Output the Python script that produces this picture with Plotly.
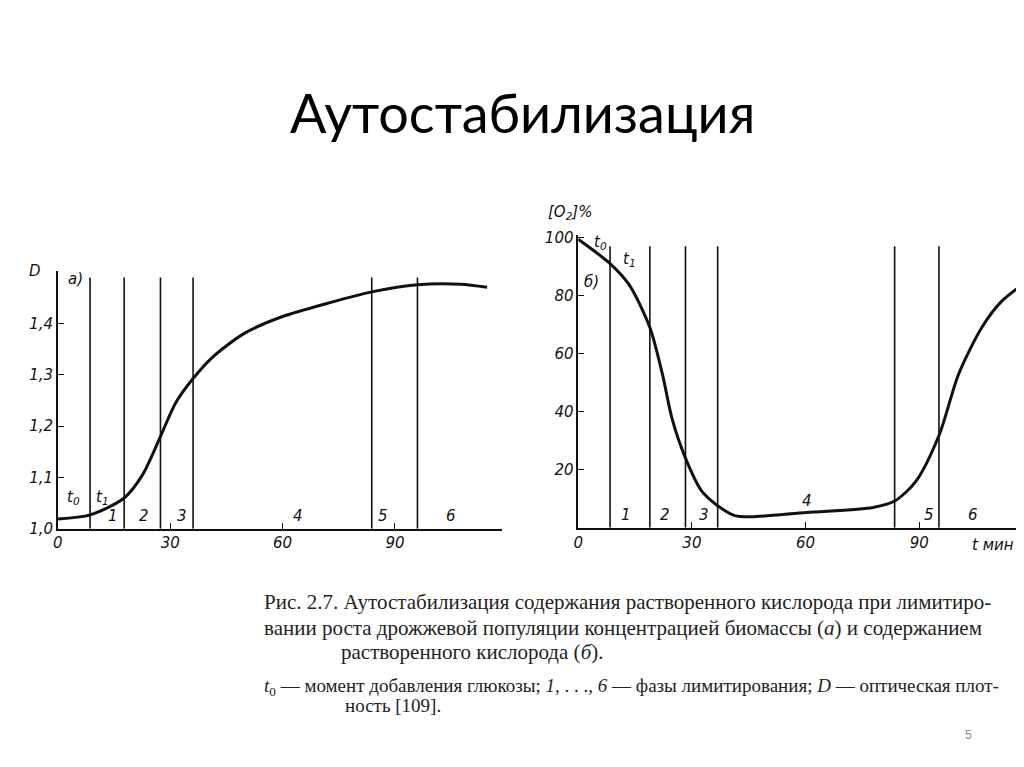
import plotly.graph_objects as go

# (а) optical density D vs time, min
t_a = [0, 8.6, 17.7, 22.6, 27.4, 31.4, 36.1, 41.2, 50, 60, 72.1, 83.8, 96, 107.5, 114.6]
d_a = [1.019, 1.027, 1.06, 1.105, 1.18, 1.245, 1.293, 1.334, 1.382, 1.414, 1.44, 1.462, 1.476, 1.477, 1.471]
phase_a = [8.6, 17.7, 27.4, 36.1, 83.8, 96.0]
label_x_a = [14.6, 23.0, 33.2, 64.0, 86.7, 104.9]

# (б) dissolved oxygen [O2], % vs time, min
t_b = [0, 8.4, 13.5, 18.9, 22.2, 24.8, 28.3, 32.6, 36.8, 41.3, 45.7, 60.3, 77.8, 83.5, 89.1, 95.2, 100.4, 106.5, 111.7, 117]
o2_b = [99.4, 91, 83.6, 69, 53, 37.4, 24, 12.6, 7.6, 4.2, 3.8, 5.3, 7, 9.2, 16, 31.8, 53, 69, 78, 83.6]
phase_b = [8.4, 18.9, 28.3, 36.8, 83.5, 95.2]
label_x_b = [12.6, 22.8, 33.2, 60.4, 92.6, 104.3]
label_y_b = [4.5, 4.5, 4.5, 9.2, 4.5, 4.5]

phase_names = ["1", "2", "3", "4", "5", "6"]
x_ticks = [0, 30, 60, 90]
y_ticks_a = [1.0, 1.1, 1.2, 1.3, 1.4]
y_ticks_b = [20, 40, 60, 80, 100]

INK = "#111111"
fig = go.Figure()

fig.add_trace(go.Scatter(x=t_a, y=d_a, mode="lines", line=dict(color=INK, width=3, shape="spline", smoothing=0.8),
                         xaxis="x", yaxis="y", showlegend=False))
for x in phase_a:
    fig.add_trace(go.Scatter(x=[x, x], y=[1.0, 1.49], mode="lines", line=dict(color=INK, width=1.6),
                             xaxis="x", yaxis="y", showlegend=False))

fig.add_trace(go.Scatter(x=t_b, y=o2_b, mode="lines", line=dict(color=INK, width=3, shape="spline", smoothing=0.8),
                         xaxis="x2", yaxis="y2", showlegend=False))
for x in phase_b:
    fig.add_trace(go.Scatter(x=[x, x], y=[0, 97], mode="lines", line=dict(color=INK, width=1.6),
                             xaxis="x2", yaxis="y2", showlegend=False))

tickfont = dict(family="DejaVu Sans", size=15, color=INK, style="italic")
axis_common = dict(showgrid=False, zeroline=False, showline=True, linecolor=INK, linewidth=1.5,
                   ticks="inside", ticklen=6, tickcolor=INK, tickfont=tickfont)

fig.update_layout(
    width=1024, height=767, margin=dict(l=0, r=0, t=0, b=0),
    paper_bgcolor="white", plot_bgcolor="white", separators=",.",
    xaxis=dict(domain=[0.044, 0.480], range=[0, 118.6], tickvals=x_ticks, anchor="y", **axis_common),
    yaxis=dict(domain=[0.3155, 0.6584], range=[1.0, 1.503], tickvals=y_ticks_a, tickformat=".1f",
               anchor="x", **axis_common),
    xaxis2=dict(domain=[0.5547, 0.992], range=[0, 117.6], tickvals=x_ticks, anchor="y2", **axis_common),
    yaxis2=dict(domain=[0.3168, 0.7066], range=[0, 101], tickvals=y_ticks_b, anchor="x2", **axis_common),
)

lab = dict(family="DejaVu Sans", size=15, color=INK, style="italic")
mid = dict(showarrow=False, xanchor="center", yanchor="middle")
ann = []
for name, x in zip(phase_names, label_x_a):
    ann.append(dict(x=x, y=1.024, xref="x", yref="y", text=name, font=lab, **mid))
for name, x, y in zip(phase_names, label_x_b, label_y_b):
    ann.append(dict(x=x, y=y, xref="x2", yref="y2", text=name, font=lab, **mid))
ann += [
    dict(x=4.2, y=1.06, xref="x", yref="y", text="t<sub>0</sub>", font=lab, **mid),
    dict(x=11.8, y=1.06, xref="x", yref="y", text="t<sub>1</sub>", font=lab, **mid),
    dict(x=4.6, y=1.487, xref="x", yref="y", text="а)", font=lab, **mid),
    dict(x=5.8, y=98.3, xref="x2", yref="y2", text="t<sub>0</sub>", font=lab, **mid),
    dict(x=13.6, y=92.5, xref="x2", yref="y2", text="t<sub>1</sub>", font=lab, **mid),
    dict(x=3.6, y=84.8, xref="x2", yref="y2", text="б)", font=lab, **mid),
    dict(x=22 / 1024, y=1 - 262 / 767, xref="paper", yref="paper", text="D", font=lab, **mid),
    dict(x=560 / 1024, y=1 - 202 / 767, xref="paper", yref="paper", text="[O<sub>2</sub>]%", font=lab, **mid),
    dict(x=985 / 1024, y=1 - 542 / 767, xref="paper", yref="paper", text="t мин", font=lab, **mid),
    # slide title
    dict(x=0.5, y=1 - 100 / 767, xref="paper", yref="paper", text="Аутостабилизация",
         font=dict(family="Lato", size=54, color="#000000"), **mid),
    dict(x=960 / 1024, y=1 - 735 / 767, xref="paper", yref="paper", text="5",
         font=dict(family="Liberation Sans", size=12, color="#888888"), **mid),
]

cap = dict(family="Liberation Serif", size=21, color="#222222")
small = dict(family="Liberation Serif", size=19, color="#222222")
caption = [
    (250, 600, "Рис. 2.7. Аутостабилизация содержания растворенного кислорода при лимитиро-", cap),
    (250, 626, "вании роста дрожжевой популяции концентрацией биомассы (<i>а</i>) и содержанием", cap),
    (328, 651, "растворенного кислорода (<i>б</i>).", cap),
    (250, 686, "<i>t</i><sub>0</sub> — момент добавления глюкозы; <i>1</i>, . . ., <i>6</i> — фазы лимитирования; <i>D</i> — оптическая плот-", small),
    (332, 705, "ность [109].", small),
]
for px, py, text, f in caption:
    ann.append(dict(x=px / 1024, y=1 - py / 767, xref="paper", yref="paper", text=text, showarrow=False,
                    xanchor="left", yanchor="middle", font=f))

fig.update_layout(annotations=ann)
fig.write_html("out.html")
